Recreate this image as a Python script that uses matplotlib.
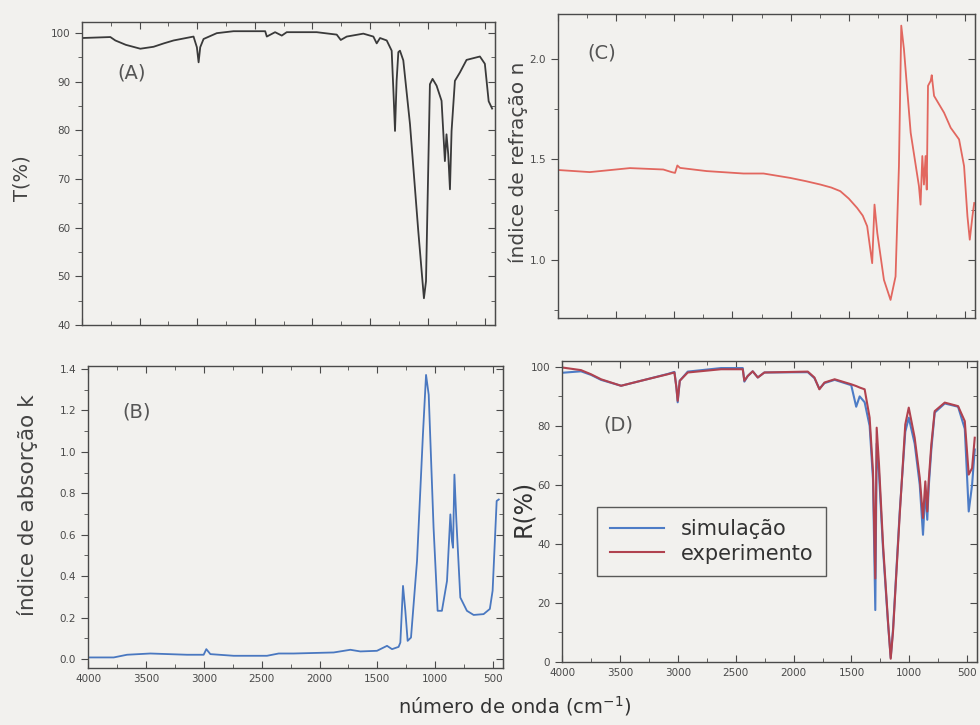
import numpy as np
import matplotlib.pyplot as plt
from matplotlib.ticker import MultipleLocator

# (A) transmitancia
wn_a = [4000, 3754, 3711, 3620, 3494, 3379, 3290, 3205, 3032, 3003, 2988, 2974, 2945, 2830,
        2685, 2410, 2396, 2324, 2266, 2223, 1963, 1789, 1754, 1702, 1558, 1471, 1442, 1413,
        1355, 1312, 1297, 1283, 1269, 1254, 1240, 1211, 1153, 1081, 1032, 1014, 980,
        957, 922, 879, 850, 836, 821, 806, 792, 763, 720, 662, 546, 503, 470, 440]
t_a = [99.0, 99.2, 98.5, 97.6, 96.8, 97.2, 97.9, 98.5, 99.3, 97.1, 94.0, 97.1, 98.8, 100.0,
       100.4, 100.4, 99.3, 100.2, 99.5, 100.2, 100.2, 99.7, 98.6, 99.3, 99.9, 99.3, 97.9,
       99.0, 98.5, 96.4, 88.2, 79.9, 90.2, 96.1, 96.4, 94.4, 81.3, 59.3, 45.5, 49.0, 89.5,
       90.6, 89.2, 86.1, 73.7, 79.2, 75.1, 67.9, 79.9, 90.2, 91.9, 94.5, 95.2, 93.7, 86.0, 84.5]

# (B) indice de absorcao k
wn_b = [4000, 3778, 3663, 3462, 3145, 3001, 2978, 2943, 2742, 2454, 2353, 2224, 1878,
        1734, 1648, 1504, 1417, 1374, 1317, 1302, 1279, 1259, 1239, 1210, 1158, 1107,
        1080, 1057, 1015, 980, 943, 899, 870, 856, 847, 835, 818, 784, 727, 669, 583,
        529, 505, 470, 452]
k_b = [0.008, 0.008, 0.021, 0.027, 0.021, 0.021, 0.048, 0.024, 0.016, 0.016, 0.027, 0.027,
       0.032, 0.045, 0.037, 0.040, 0.064, 0.048, 0.059, 0.080, 0.353, 0.233, 0.088, 0.104,
       0.473, 1.083, 1.371, 1.275, 0.633, 0.233, 0.233, 0.377, 0.698, 0.569, 0.537, 0.890,
       0.666, 0.297, 0.233, 0.213, 0.217, 0.242, 0.330, 0.763, 0.770]

# (C) indice de refracao n
wn_c = [3986, 3727, 3382, 3095, 3023, 2994, 2974, 2951, 2721, 2405, 2233, 2003, 1870,
        1744, 1650, 1573, 1500, 1428, 1380, 1342, 1299, 1279, 1255, 1198, 1141, 1098,
        1069, 1049, 1026, 968, 897, 883, 868, 854, 840, 830, 819, 796, 787, 767, 681,
        624, 552, 509, 480, 460, 437, 422]
n_c = [1.447, 1.437, 1.457, 1.450, 1.437, 1.433, 1.470, 1.458, 1.442, 1.430, 1.430,
       1.408, 1.392, 1.375, 1.360, 1.342, 1.305, 1.258, 1.220, 1.167, 0.983, 1.275,
       1.133, 0.900, 0.800, 0.917, 1.467, 2.167, 2.050, 1.633, 1.367, 1.275, 1.517,
       1.375, 1.517, 1.350, 1.867, 1.892, 1.920, 1.817, 1.733, 1.658, 1.600, 1.467,
       1.217, 1.100, 1.217, 1.283]

# (D) refletancia
wn_d = [4000, 3836, 3750, 3663, 3490, 3317, 3087, 3029, 3012, 3001, 2983, 2914, 2626,
        2439, 2425, 2396, 2353, 2309, 2252, 1877, 1820, 1777, 1733, 1645, 1502, 1459,
        1429, 1386, 1343, 1314, 1294, 1282, 1262, 1227, 1184, 1161, 1141, 1083, 1035,
        1005, 954, 910, 882, 862, 845, 833, 810, 781, 694, 579, 521, 487, 458, 435]
r_exp = [99.8, 98.9, 97.5, 95.8, 93.6, 95.3, 97.5, 98.1, 93.0, 88.5, 95.3, 98.1, 99.2,
         99.2, 95.3, 96.9, 98.5, 96.4, 98.1, 98.4, 96.4, 92.4, 94.7, 95.8, 94.1, 93.5,
         93.0, 92.4, 82.8, 64.6, 28.3, 79.4, 66.9, 39.7, 13.6, 1.1, 10.2, 49.9, 80.5,
         86.2, 76.0, 62.4, 48.8, 61.2, 51.0, 61.2, 73.7, 85.0, 87.9, 86.7, 81.6, 63.5,
         65.7, 76.0]
r_sim = [98.0, 98.5, 97.3, 95.6, 93.6, 95.3, 97.6, 98.3, 93.0, 88.0, 95.3, 98.4, 99.6,
         99.6, 95.0, 96.9, 98.5, 96.4, 98.1, 98.2, 96.2, 92.6, 94.5, 95.6, 93.8, 86.5,
         90.0, 88.0, 80.0, 62.0, 17.6, 74.0, 64.0, 38.0, 13.0, 1.5, 11.0, 51.0, 78.0,
         82.8, 74.0, 60.0, 43.1, 58.0, 48.2, 59.0, 72.0, 84.5, 87.6, 86.5, 79.0, 51.0,
         60.0, 72.0]

bg = '#f2f1ee'
grey = '#4a4a4a'
fig = plt.figure(figsize=(9.8, 7.25), dpi=100, facecolor=bg)


def setup(ax, ymin, ymax, ymaj, ymin_step, xlabels):
    ax.set_facecolor(bg)
    ax.set_xlim(4000, 415)
    ax.set_ylim(ymin, ymax)
    ax.xaxis.set_major_locator(MultipleLocator(500))
    ax.xaxis.set_minor_locator(MultipleLocator(250))
    ax.yaxis.set_major_locator(MultipleLocator(ymaj))
    ax.yaxis.set_minor_locator(MultipleLocator(ymin_step))
    for s in ax.spines.values():
        s.set_color(grey)
        s.set_linewidth(1.0)
    ax.tick_params(axis='x', which='both', direction='in', top=True, colors=grey,
                   labelsize=7.5, labelbottom=xlabels, pad=4)
    ax.tick_params(axis='y', which='both', direction='out', colors=grey, labelsize=7.5)
    ax.tick_params(which='major', length=5)
    ax.tick_params(which='minor', length=3)
    sec = ax.secondary_yaxis('right')
    sec.yaxis.set_major_locator(MultipleLocator(ymaj))
    sec.yaxis.set_minor_locator(MultipleLocator(ymin_step))
    sec.tick_params(which='both', direction='in', labelright=False, colors=grey)
    sec.tick_params(which='major', length=5)
    sec.tick_params(which='minor', length=3)
    sec.spines['right'].set_color(grey)


axA = fig.add_axes([0.0837, 0.5517, 0.4214, 0.418])
axB = fig.add_axes([0.0898, 0.0786, 0.4235, 0.4166])
axC = fig.add_axes([0.5694, 0.5614, 0.4255, 0.4193])
axD = fig.add_axes([0.5735, 0.0869, 0.4235, 0.4152])

setup(axA, 40, 102.3, 10, 5, False)
axA.plot(wn_a, t_a, color='#3a3a3a', lw=1.3)

setup(axB, -0.043, 1.414, 0.2, 0.1, True)
axB.yaxis.set_major_formatter(lambda v, p: f'{v:.1f}')
axB.plot(wn_b, k_b, color='#4a78c0', lw=1.3)

setup(axC, 0.71, 2.225, 0.5, 0.25, False)
axC.yaxis.set_major_formatter(lambda v, p: f'{v:.1f}')
axC.plot(wn_c, n_c, color='#e2675f', lw=1.3)

setup(axD, 0, 102, 20, 10, True)
axD.plot(wn_d, r_sim, color='#4d7cc6', lw=1.5, label='simulação')
axD.plot(wn_d, r_exp, color='#b0424f', lw=1.5, label='experimento')
leg = axD.legend(loc='upper left', bbox_to_anchor=(0.06, 0.55), fontsize=15,
                 frameon=True, fancybox=False, handlelength=2.6, borderpad=0.6,
                 labelspacing=0.2)
leg.get_frame().set_edgecolor('#333333')
leg.get_frame().set_facecolor(bg)
leg.get_frame().set_linewidth(1.0)
for t in leg.get_texts():
    t.set_color('#333333')


# panel letters and labels (pixel positions from top)
def ftext(x, y, s, **kw):
    fig.text(x / 980, 1 - y / 725, s, **kw)


ftext(132, 73, '(A)', fontsize=14, color='#555555', ha='center', va='center')
ftext(137, 412, '(B)', fontsize=14, color='#555555', ha='center', va='center')
ftext(602, 53, '(C)', fontsize=14, color='#555555', ha='center', va='center')
ftext(618, 425, '(D)', fontsize=14, color='#555555', ha='center', va='center')

ftext(22, 178, 'T(%)', fontsize=14, color='#444444', rotation=90, ha='center', va='center')
ftext(27, 505, 'índice de absorção k', fontsize=15.5, color='#444444', rotation=90,
      ha='center', va='center')
ftext(518, 162, 'índice de refração n', fontsize=14.5, color='#444444', rotation=90,
      ha='center', va='center')
ftext(523, 508, 'R(%)', fontsize=17, color='#333333', rotation=90, ha='center', va='center')
ftext(515, 706, 'número de onda (cm$^{-1}$)', fontsize=14, color='#333333',
      ha='center', va='center')

fig.savefig('out.png', dpi=100, facecolor=bg)
